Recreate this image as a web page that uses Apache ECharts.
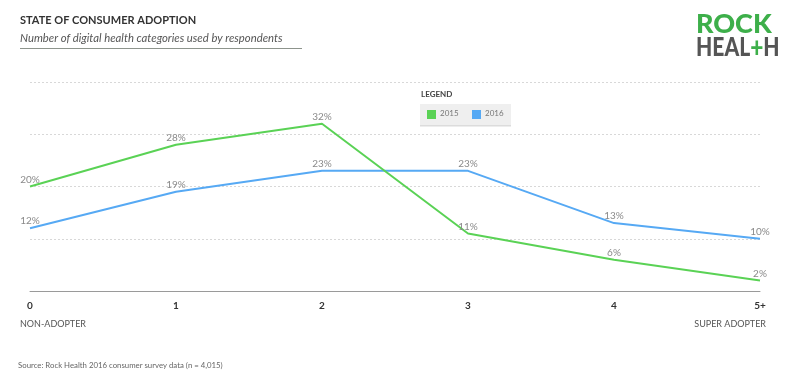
<!DOCTYPE html>
<html><head><meta charset="utf-8">
<script src="https://cdn.jsdelivr.net/npm/echarts@6/dist/echarts.min.js"></script>
<style>html,body{margin:0;padding:0;background:#fff}#c{width:800px;height:389px}</style>
</head><body><div id="c"></div>
<script>
const categories = ['0','1','2','3','4','5+'];
const values2015 = [20, 28, 32, 11, 6, 2];
const values2016 = [12, 19, 23, 23, 13, 10];
const seriesNames = ['2015','2016'];
const yTicks = [0, 10, 20, 30, 40];

const GREEN = '#5ad255';
const BLUE = '#56a9f4';
const FONT = 'Lato, "Open Sans", sans-serif';

const chart = echarts.init(document.getElementById('c'), null, {renderer:'canvas'});
const lbl = {show:true, position:'top', distance:2, color:'#8a8a8a', fontSize:10, fontFamily:FONT, formatter: p => p.value + '%'};
const mk = (name, data, color, z) => ({name, type:'line', data, symbol:'circle', symbolSize:0.1, showSymbol:true,
  lineStyle:{color, width:2}, itemStyle:{color:'rgba(0,0,0,0)', borderWidth:0}, label:lbl, z});
chart.setOption({
  animation:false,
  textStyle:{fontFamily:FONT},
  grid:{left:30, right:40, top:82, bottom:98, containLabel:false},
  xAxis:{type:'category', data:categories, boundaryGap:false,
    axisLine:{lineStyle:{color:'#9a9a9a', width:1}}, axisTick:{show:false},
    axisLabel:{color:'#333', fontWeight:'bold', fontSize:10, margin:10, fontFamily:FONT}},
  yAxis:{type:'value', min:yTicks[0], max:yTicks[yTicks.length-1], interval:10,
    axisLine:{show:false}, axisTick:{show:false}, axisLabel:{show:false},
    splitLine:{lineStyle:{color:'#d8d8d8', type:[2,2], width:1}}},
  series:[ mk(seriesNames[0], values2015, GREEN, 3), mk(seriesNames[1], values2016, BLUE, 2) ],
  graphic:[
    {type:'text', left:20, top:15, style:{text:'STATE OF CONSUMER ADOPTION', fill:'#333', font:'bold 11px '+FONT, letterSpacing:1.3}},
    {type:'text', left:20, top:33, style:{text:'Number of digital health categories used by respondents', fill:'#555', font:'italic 11.3px '+FONT}},
    {type:'rect', shape:{x:20, y:48, width:282, height:1}, style:{fill:'#8d948c'}},
    {type:'text', x:696, y:11, scaleX:1.0, originX:0, style:{text:'ROCK', fill:'#3daf4a', font:'900 27px '+FONT}},
    {type:'text', x:696, y:34, scaleX:0.81, originX:0, style:{text:'{d|HEAL}{g|+}{d|H}', font:'900 26px '+FONT,
      rich:{d:{fill:'#555', font:'900 26px '+FONT}, g:{fill:'#3daf4a', font:'900 28px '+FONT}}}},
    {type:'text', left:421, top:90, style:{text:'LEGEND', fill:'#444', font:'bold 8px '+FONT, letterSpacing:0.5}},
    {type:'rect', shape:{x:420, y:104, width:91, height:22}, style:{fill:'#efefef'}},
    {type:'rect', shape:{x:420, y:125, width:91, height:1.5}, style:{fill:'#dcdcdc'}},
    {type:'rect', shape:{x:427, y:110, width:9, height:9}, style:{fill:GREEN}},
    {type:'text', left:440, top:109, style:{text:seriesNames[0], fill:'#777', font:'8px '+FONT}},
    {type:'rect', shape:{x:472, y:110, width:9, height:9}, style:{fill:BLUE}},
    {type:'text', left:485, top:109, style:{text:seriesNames[1], fill:'#777', font:'8px '+FONT}},
    {type:'text', left:20, top:320, style:{text:'NON-ADOPTER', fill:'#555', font:'9px '+FONT}},
    {type:'text', right:34, top:320, style:{text:'SUPER ADOPTER', fill:'#555', font:'9px '+FONT}},
    {type:'text', left:18, top:361, style:{text:'Source: Rock Health 2016 consumer survey data (n = 4,015)', fill:'#666', font:'7.8px '+FONT}}
  ]
});
</script></body></html>
